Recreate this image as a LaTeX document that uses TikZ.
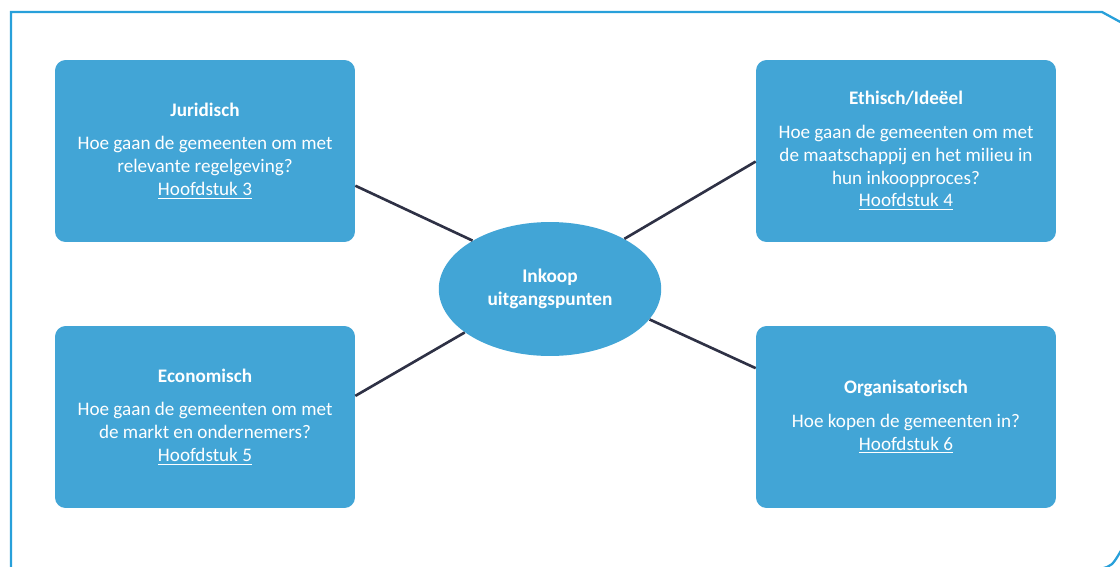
\documentclass[tikz,border=0pt]{standalone}
\usepackage{fontspec}
\setmainfont{Carlito}
\usetikzlibrary{positioning, shapes.geometric}
\definecolor{boxblue}{RGB}{66,165,214}
\definecolor{linknavy}{RGB}{46,49,69}
\definecolor{frameblue}{RGB}{40,160,218}

\begin{document}
\begin{tikzpicture}[x=0.02cm, y=-0.02cm,
    topic/.style = {rectangle, rounded corners=6pt, fill=boxblue, text=white, minimum width=6cm, minimum height=3.64cm, align=center, font=\fontsize{10.9}{13}\selectfont},
    core/.style = {ellipse, fill=boxblue, text=white, minimum width=4.45cm, minimum height=2.68cm, align=center, font=\bfseries\fontsize{11}{13}\selectfont},
    link/.style = {draw=linknavy, line width=1.5pt}]
    \useasboundingbox (0,0) rectangle (1120,566);
    % outer frame
    \draw[frameblue, line width=1.3pt] (11,572) -- (11,12) -- (1102,12) -- (1124,24);
    \draw[frameblue, line width=1.3pt] (1100,569) .. controls (1112,566) .. (1122,549);

    \node[core] (core) at (550,289) {Inkoop\\uitgangspunten};
    \node[topic] (jur) at (205,151) {\textbf{Juridisch}\\[6pt]Hoe gaan de gemeenten om met\\relevante regelgeving?\\\underline{Hoofdstuk 3}};
    \node[topic] (eth) at (906,151) {\textbf{Ethisch/Ideëel}\\[6pt]Hoe gaan de gemeenten om met\\de maatschappij en het milieu in\\hun inkoopproces?\\\underline{Hoofdstuk 4}};
    \node[topic] (eco) at (205,417) {\textbf{Economisch}\\[6pt]Hoe gaan de gemeenten om met\\de markt en ondernemers?\\\underline{Hoofdstuk 5}};
    \node[topic] (org) at (906,417) {\textbf{Organisatorisch}\\[6pt]Hoe kopen de gemeenten in?\\\underline{Hoofdstuk 6}};

    \draw[link] (core.148) -- (jur.-13);
    \draw[link] (core.34) -- (eth.184);
    \draw[link] (core.207) -- (eco.8);
    \draw[link] (core.343) -- (org.162);
\end{tikzpicture}
\end{document}
